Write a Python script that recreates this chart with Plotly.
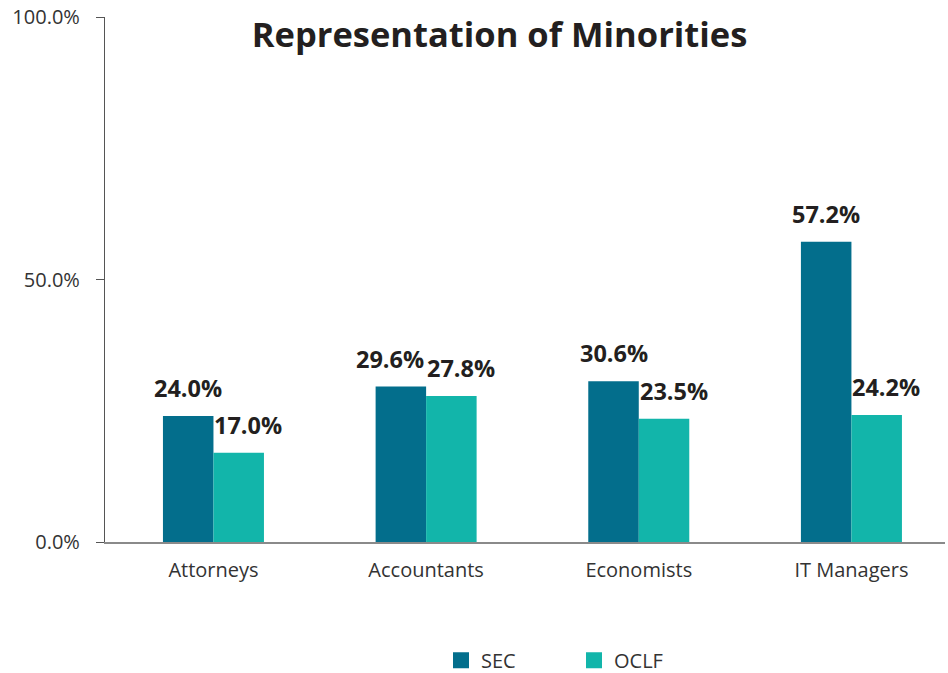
import plotly.graph_objects as go

categories = ["Attorneys", "Accountants", "Economists", "IT Managers"]
sec = [24.0, 29.6, 30.6, 57.2]
oclf = [17.0, 27.8, 23.5, 24.2]
y_ticks = [0, 50, 100]
y_tick_labels = ["0.0%", "50.0%", "100.0%"]

SEC_COLOR = "#036E8C"
OCLF_COLOR = "#12B5AA"
FONT = "Open Sans, sans-serif"
LABEL_COLOR = "#231F20"

fig = go.Figure()
fig.add_trace(go.Bar(name="SEC", x=categories, y=sec, marker_color=SEC_COLOR,
                     marker_line_width=0, showlegend=False))
fig.add_trace(go.Bar(name="OCLF", x=categories, y=oclf, marker_color=OCLF_COLOR,
                     marker_line_width=0, showlegend=False))
# legend entries with larger square swatches
for name, color in [("SEC", SEC_COLOR), ("OCLF", OCLF_COLOR)]:
    fig.add_trace(go.Scatter(name=name, x=[None], y=[None], mode="markers",
                             marker=dict(symbol="square", size=18, color=color)))

# value labels above bars
for i, cat in enumerate(categories):
    close = abs(sec[i] - oclf[i]) < 5
    fig.add_annotation(x=i, y=sec[i], xref="x", yref="y",
                       text=f"<b>{sec[i]:.1f}%</b>", showarrow=False,
                       xanchor="right" if close else "center", yanchor="bottom",
                       xshift=0 if close else -25, yshift=10,
                       font=dict(family=FONT, size=23.5, color=LABEL_COLOR))
    fig.add_annotation(x=i, y=oclf[i], xref="x", yref="y",
                       text=f"<b>{oclf[i]:.1f}%</b>", showarrow=False,
                       xanchor="left", yanchor="bottom", xshift=-1, yshift=10,
                       font=dict(family=FONT, size=23.5, color=LABEL_COLOR))

fig.update_layout(
    width=948, height=673,
    barmode="group", bargap=0.525, bargroupgap=0,
    paper_bgcolor="white", plot_bgcolor="white",
    margin=dict(l=105, r=3, t=17, b=131, autoexpand=False),
    font=dict(family=FONT, color="#333333", size=18),
    title=dict(text="<b>Representation of Minorities</b>", x=0.527, xanchor="center",
               y=0.948, yanchor="middle", font=dict(size=34.5, color=LABEL_COLOR, family=FONT)),
    legend=dict(orientation="h", x=0.4, xanchor="left", y=-0.225, yanchor="middle",
                font=dict(size=20, color="#333333"), entrywidth=88, entrywidthmode="pixels",
                traceorder="normal"),
    showlegend=True,
)
fig.update_xaxes(
    range=[-0.51, 3.44], showline=True, linecolor="#8a8a8a", linewidth=1.5,
    showgrid=False, ticks="", tickfont=dict(size=20, color="#333333"), fixedrange=True,
    ticklabelstandoff=9,
)
fig.update_yaxes(
    range=[0, 100], tickvals=y_ticks, ticktext=y_tick_labels,
    showline=True, linecolor="#555555", linewidth=1.2, showgrid=False, zeroline=False,
    ticks="outside", ticklen=8, tickcolor="#555555", tickfont=dict(size=20, color="#333333"),
    ticklabelstandoff=12,
)

fig.write_html("out.html", post_script="document.body.style.margin='0';",
               config={"displayModeBar": False})
